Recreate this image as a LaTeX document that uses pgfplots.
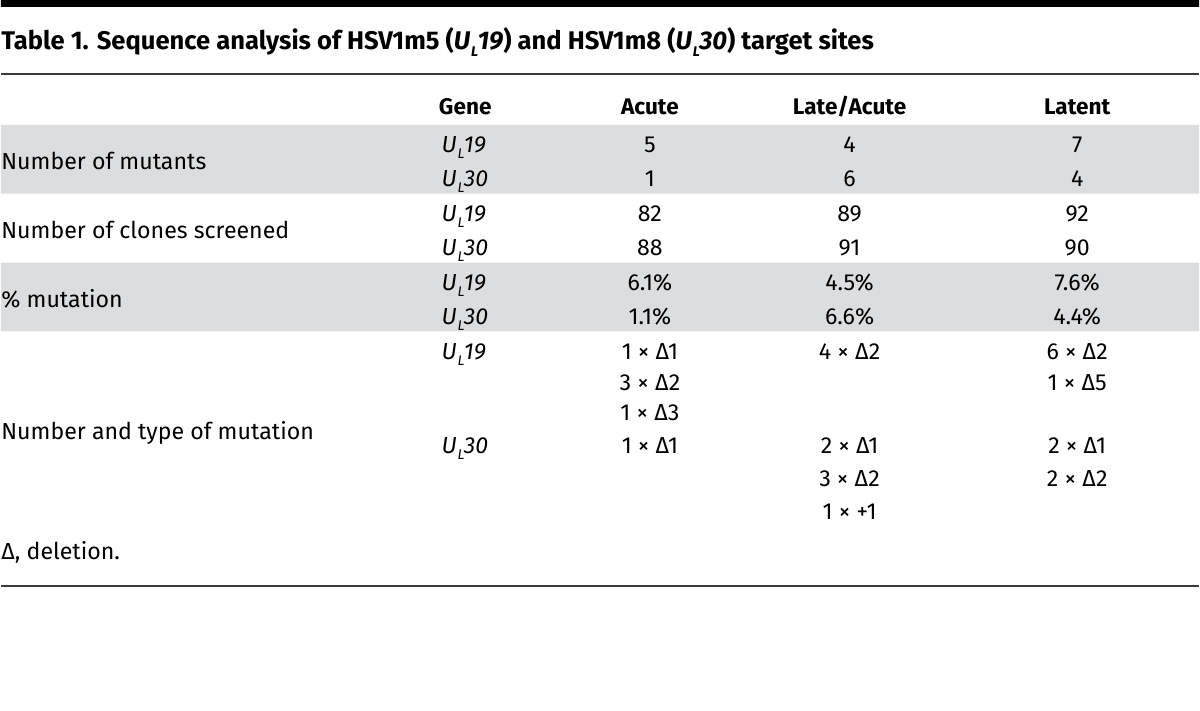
\documentclass[border=0pt]{standalone}
\usepackage{pgfplots}
\pgfplotsset{compat=1.18}
\usepackage{fontspec}
\setmainfont{Fira Sans}
\definecolor{band}{HTML}{DCDDDF}
\definecolor{rulec}{HTML}{3A3A3A}
\newcommand{\UL}[1]{\textit{U\kern0.03em\raisebox{-0.5ex}{\fontsize{7}{7}\selectfont L}\kern-0.02em#1}}
\begin{document}
\begin{tikzpicture}[
  tx/.style={anchor=base,inner sep=0pt,font=\fontsize{11.6}{13}\selectfont},
  txl/.style={anchor=base west,inner sep=0pt,font=\fontsize{11.6}{13}\selectfont},
  hd/.style={anchor=base,inner sep=0pt,font=\fontsize{11.3}{13}\selectfont\bfseries}]
\begin{axis}[width=600pt,height=356pt,scale only axis,
  xmin=0,xmax=1200,ymin=0,ymax=712,y dir=reverse,hide axis,clip=false]
% frame (for the page size)
\addplot[draw=none] coordinates {(0,0)(1200,0)(1200,712)(0,712)};
% top bar and rules
\addplot[fill=black,draw=none] coordinates {(0,0)(1200,0)(1200,7)(0,7)(0,0)};
\addplot[fill=band,draw=none] coordinates {(0,125)(1200,125)(1200,194)(0,194)(0,125)};
\addplot[fill=band,draw=none] coordinates {(0,263)(1200,263)(1200,332)(0,332)(0,263)};
\addplot[rulec,line width=0.7pt] coordinates {(0,74)(1200,74)};
\addplot[rulec,line width=1pt] coordinates {(0,587)(1200,587)};
% title
\node[anchor=base west,inner sep=0pt,font=\fontsize{12.8}{15}\selectfont\bfseries] at (axis cs:0,50)
  {Table 1. Sequence analysis of HSV1m5 (\UL{19}) and HSV1m8 (\UL{30}) target sites};
% header
\node[hd] at (axis cs:465,115) {Gene};
\node[hd] at (axis cs:650,115) {Acute};
\node[hd] at (axis cs:850,115) {Late/Acute};
\node[hd] at (axis cs:1078,115) {Latent};
% row labels
\node[txl] at (axis cs:0,170) {Number of mutants};
\node[txl] at (axis cs:0,239) {Number of clones screened};
\node[txl] at (axis cs:0,308) {\% mutation};
\node[txl] at (axis cs:0,440) {Number and type of mutation};
% gene column
\node[txl] at (axis cs:441,153) {\UL{19}};
\node[txl] at (axis cs:441,187) {\UL{30}};
\node[txl] at (axis cs:441,222) {\UL{19}};
\node[txl] at (axis cs:441,256) {\UL{30}};
\node[txl] at (axis cs:441,291) {\UL{19}};
\node[txl] at (axis cs:441,325) {\UL{30}};
\node[txl] at (axis cs:441,360) {\UL{19}};
\node[txl] at (axis cs:441,454) {\UL{30}};
% values
\node[tx] at (axis cs:650,153) {5};
\node[tx] at (axis cs:850,153) {4};
\node[tx] at (axis cs:1078,153) {7};
\node[tx] at (axis cs:650,187) {1};
\node[tx] at (axis cs:850,187) {6};
\node[tx] at (axis cs:1078,187) {4};
\node[tx] at (axis cs:650,222) {82};
\node[tx] at (axis cs:850,222) {89};
\node[tx] at (axis cs:1078,222) {92};
\node[tx] at (axis cs:650,256) {88};
\node[tx] at (axis cs:850,256) {91};
\node[tx] at (axis cs:1078,256) {90};
\node[tx] at (axis cs:650,291) {6.1\%};
\node[tx] at (axis cs:850,291) {4.5\%};
\node[tx] at (axis cs:1078,291) {7.6\%};
\node[tx] at (axis cs:650,325) {1.1\%};
\node[tx] at (axis cs:850,325) {6.6\%};
\node[tx] at (axis cs:1078,325) {4.4\%};
% mutation types
\node[tx] at (axis cs:650,360) {1 × Δ1};
\node[tx] at (axis cs:650,391) {3 × Δ2};
\node[tx] at (axis cs:650,421) {1 × Δ3};
\node[tx] at (axis cs:850,360) {4 × Δ2};
\node[tx] at (axis cs:1078,360) {6 × Δ2};
\node[tx] at (axis cs:1078,391) {1 × Δ5};
\node[tx] at (axis cs:650,454) {1 × Δ1};
\node[tx] at (axis cs:850,454) {2 × Δ1};
\node[tx] at (axis cs:850,487) {3 × Δ2};
\node[tx] at (axis cs:850,520) {1 × +1};
\node[tx] at (axis cs:1078,454) {2 × Δ1};
\node[tx] at (axis cs:1078,487) {2 × Δ2};
% footnote
\node[txl] at (axis cs:0,560) {Δ, deletion.};
\end{axis}
\end{tikzpicture}
\end{document}
